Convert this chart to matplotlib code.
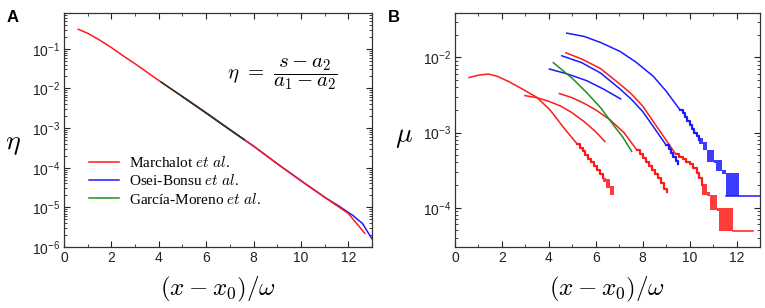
import matplotlib
matplotlib.use('Agg')
import matplotlib.pyplot as plt
import numpy as np
from matplotlib.lines import Line2D
from matplotlib.ticker import MultipleLocator, LogLocator, NullFormatter

RED = '#ff1a1a'
BLUE = '#1a1aff'
GREEN = '#1f8f1f'

# ---- panel A: eta vs (x - x0)/w ----
eta_red_x = [0.6, 1.0, 1.5, 2.0, 2.5, 3.0, 3.5, 4.0, 5.0, 6.0, 7.0, 8.0, 9.0, 10.0, 11.0, 12.0, 12.7]
eta_red_y = [0.31, 0.245, 0.166, 0.107, 0.066, 0.0417, 0.0257, 0.0158, 0.0062, 0.0024,
             9.1e-4, 3.5e-4, 1.26e-4, 4.7e-5, 1.8e-5, 7.0e-6, 2.2e-6]
eta_blue_x = [5.0, 6.0, 7.0, 8.0, 9.0, 10.0, 11.0, 11.6, 12.2, 12.6, 13.0]
eta_blue_y = [0.0062, 0.0024, 9.1e-4, 3.5e-4, 1.26e-4, 4.7e-5, 1.8e-5, 1.08e-5, 6.2e-6, 3.9e-6, 1.6e-6]
eta_green_x = [4.1, 5.0, 6.0, 7.0, 7.6]
eta_green_y = [0.0144, 0.0062, 0.0024, 9.1e-4, 5.13e-4]

# ---- panel B: mu vs (x - x0)/w ----
# Marchalot et al. (red)
r1_x = [0.6, 1.0, 1.42, 1.8, 2.27, 2.8, 3.48, 4.05, 4.69, 5.2]
r1_y = [5.4e-3, 5.8e-3, 6.0e-3, 5.6e-3, 4.8e-3, 3.9e-3, 2.95e-3, 2.0e-3, 1.1e-3, 7.1e-4]
r1_sx = [5.2, 5.32, 5.44, 5.56, 5.68, 5.8, 5.92, 6.04, 6.16, 6.3]
r1_sy = [7.1e-4, 6.3e-4, 5.6e-4, 5.0e-4, 4.5e-4, 4.0e-4, 3.6e-4, 3.2e-4, 2.8e-4, 2.5e-4]
r1_blk = [(6.3, 6.44, 2.2e-4, 2.5e-4), (6.44, 6.61, 1.85e-4, 2.4e-4),
          (6.61, 6.79, 1.48e-4, 1.95e-4)]

r2_x = [2.98, 3.5, 4.0, 4.5, 4.97, 5.5, 6.0, 6.39]
r2_y = [3.1e-3, 2.9e-3, 2.6e-3, 2.25e-3, 1.85e-3, 1.4e-3, 1.02e-3, 7.6e-4]

r3_x = [4.45, 5.0, 5.5, 6.0, 6.6, 7.2, 7.74]
r3_y = [3.3e-3, 2.9e-3, 2.45e-3, 2.0e-3, 1.48e-3, 1.0e-3, 5.9e-4]
r3_sx = [7.74, 7.87, 8.0, 8.13, 8.26, 8.39, 8.52, 8.65, 8.78, 8.9, 9.02]
r3_sy = [5.9e-4, 5.2e-4, 4.6e-4, 4.05e-4, 3.6e-4, 3.2e-4, 2.8e-4, 2.45e-4, 2.1e-4, 1.8e-4, 1.6e-4]

r4_x = [4.73, 5.4, 6.2, 7.03, 7.5, 8.0, 8.45, 9.0, 9.4]
r4_y = [1.15e-2, 9.5e-3, 7.1e-3, 4.4e-3, 3.3e-3, 2.25e-3, 1.4e-3, 7.9e-4, 5.2e-4]
r4_sx = [9.4, 9.55, 9.7, 9.85, 10.0, 10.15, 10.3, 10.42, 10.52]
r4_sy = [5.2e-4, 4.8e-4, 4.4e-4, 4.1e-4, 3.8e-4, 3.4e-4, 2.9e-4, 2.5e-4, 2.0e-4]
r4_blk = [(10.52, 10.73, 1.48e-4, 2.05e-4), (10.73, 10.87, 1.45e-4, 1.62e-4),
          (10.87, 11.15, 9.3e-5, 1.48e-4), (11.15, 11.27, 9.0e-5, 1.0e-4),
          (11.27, 11.84, 4.9e-5, 9.8e-5)]
r4_flat = ([11.84, 12.69], [4.9e-5, 4.9e-5])

# Osei-Bonsu et al. (blue)
b1_x = [4.76, 5.5, 6.2, 7.03, 7.7, 8.45, 9.0, 9.59]
b1_y = [2.1e-2, 1.9e-2, 1.58e-2, 1.2e-2, 8.7e-3, 5.6e-3, 3.55e-3, 2.0e-3]
b1_sx = [9.59, 9.7, 9.8, 9.9, 10.0, 10.1, 10.2, 10.3, 10.4]
b1_sy = [2.0e-3, 1.8e-3, 1.6e-3, 1.42e-3, 1.27e-3, 1.13e-3, 1.0e-3, 9.0e-4, 8.0e-4]
b1_blk = [(10.4, 10.55, 7.0e-4, 8.4e-4), (10.55, 10.73, 5.8e-4, 7.4e-4),
          (10.73, 11.04, 4.1e-4, 5.8e-4), (11.04, 11.13, 3.9e-4, 4.3e-4),
          (11.13, 11.4, 3.1e-4, 4.3e-4), (11.4, 11.55, 2.8e-4, 3.2e-4),
          (11.55, 12.12, 1.45e-4, 2.9e-4)]
b1_flat = ([11.55, 13.0], [1.42e-4, 1.42e-4])

b2_x = [4.55, 5.4, 6.2, 7.03, 7.5, 8.0, 8.45, 9.0]
b2_y = [1.05e-2, 8.5e-3, 6.2e-3, 3.8e-3, 2.8e-3, 1.9e-3, 1.2e-3, 6.8e-4]
b2_sx = [9.0, 9.1, 9.2, 9.3, 9.42, 9.52]
b2_sy = [6.8e-4, 6.0e-4, 5.3e-4, 4.7e-4, 4.2e-4, 3.8e-4]

b3_x = [4.02, 4.8, 5.61, 6.32, 7.06]
b3_y = [7.0e-3, 6.0e-3, 4.9e-3, 3.8e-3, 2.8e-3]

# Garcia-Moreno et al. (green)
g1_x = [4.19, 5.0, 5.61, 6.2, 6.75, 7.15, 7.53]
g1_y = [8.5e-3, 5.25e-3, 3.4e-3, 2.15e-3, 1.26e-3, 8.7e-4, 5.6e-4]

legend_labels = ['Marchalot $\\it{et\\ al}$.', 'Osei-Bonsu $\\it{et\\ al}$.',
                 'García-Moreno $\\it{et\\ al}$.']

LW = 1.1


def style_axes(ax):
    ax.set_yscale('log')
    ax.set_xlim(0, 13)
    ax.xaxis.set_major_locator(MultipleLocator(2))
    ax.xaxis.set_minor_locator(MultipleLocator(1))
    ax.yaxis.set_minor_locator(LogLocator(base=10, subs=np.arange(2, 10)))
    ax.yaxis.set_minor_formatter(NullFormatter())
    ax.tick_params(which='both', direction='in', top=True, right=True,
                   labelsize=10, colors='#222222', pad=3)
    ax.tick_params(which='major', length=4, width=0.8)
    ax.tick_params(which='minor', length=2, width=0.6)
    for s in ax.spines.values():
        s.set_linewidth(0.9)
        s.set_color('#333333')
    ax.set_xlabel(r'$(x-x_0)/\omega$', fontsize=18, labelpad=7)


def main():
    plt.rcParams['font.family'] = ['Liberation Sans', 'DejaVu Sans']
    plt.rcParams['mathtext.fontset'] = 'cm'

    fig = plt.figure(figsize=(7.65, 3.08), dpi=100)
    ax1 = fig.add_axes([0.0837, 0.198, 0.4026, 0.760])
    ax2 = fig.add_axes([0.5948, 0.198, 0.3987, 0.760])

    # panel A
    ax1.plot(eta_blue_x, eta_blue_y, color=BLUE, lw=LW)
    ax1.plot(eta_red_x, eta_red_y, color=RED, lw=LW)
    ax1.plot(eta_green_x, eta_green_y, color='#1c3a1c', lw=LW)
    style_axes(ax1)
    ax1.set_ylim(1e-6, 0.8)
    ax1.set_ylabel(r'$\eta$', fontsize=20, rotation=0, va='center')
    ax1.yaxis.set_label_coords(-0.165, 0.44)
    ax1.text(0.71, 0.74, r'$\eta\ =\ \dfrac{s - a_2}{a_1 - a_2}$', transform=ax1.transAxes,
             fontsize=15, ha='center', va='center')
    handles = [Line2D([], [], color=c, lw=LW) for c in (RED, BLUE, GREEN)]
    ax1.legend(handles, legend_labels, loc='upper left', bbox_to_anchor=(0.036, 0.45),
               frameon=False, prop={'family': 'Liberation Serif', 'size': 11},
               handlelength=2.0, handletextpad=0.6, labelspacing=0.2)

    # panel B
    for xs, ys in [(r1_x, r1_y), (r2_x, r2_y), (r3_x, r3_y), (r4_x, r4_y), r4_flat]:
        ax2.plot(xs, ys, color=RED, lw=LW)
    for xs, ys in [(r1_sx, r1_sy), (r3_sx, r3_sy), (r4_sx, r4_sy)]:
        ax2.plot(xs, ys, color=RED, lw=1.6, drawstyle='steps-post')
    for xs, ys in [(b1_x, b1_y), (b2_x, b2_y), (b3_x, b3_y), b1_flat]:
        ax2.plot(xs, ys, color=BLUE, lw=LW)
    for xs, ys in [(b1_sx, b1_sy), (b2_sx, b2_sy)]:
        ax2.plot(xs, ys, color=BLUE, lw=1.6, drawstyle='steps-post')
    for blocks, c in [(r1_blk, RED), (r4_blk, RED), (b1_blk, BLUE)]:
        for x0, x1, lo, hi in blocks:
            ax2.bar(x0, hi - lo, width=x1 - x0, bottom=lo, align='edge',
                    color=c, alpha=0.85, linewidth=0)
    ax2.plot(g1_x, g1_y, color=GREEN, lw=LW)
    style_axes(ax2)
    ax2.set_ylim(3e-5, 3.9e-2)
    ax2.set_ylabel(r'$\mu$', fontsize=20, rotation=0, va='center')
    ax2.yaxis.set_label_coords(-0.167, 0.47)

    fig.text(0.008, 0.93, 'A', fontsize=12, fontweight='bold')
    fig.text(0.507, 0.93, 'B', fontsize=12, fontweight='bold')

    fig.savefig('out.png', dpi=100)


if __name__ == '__main__':
    main()
